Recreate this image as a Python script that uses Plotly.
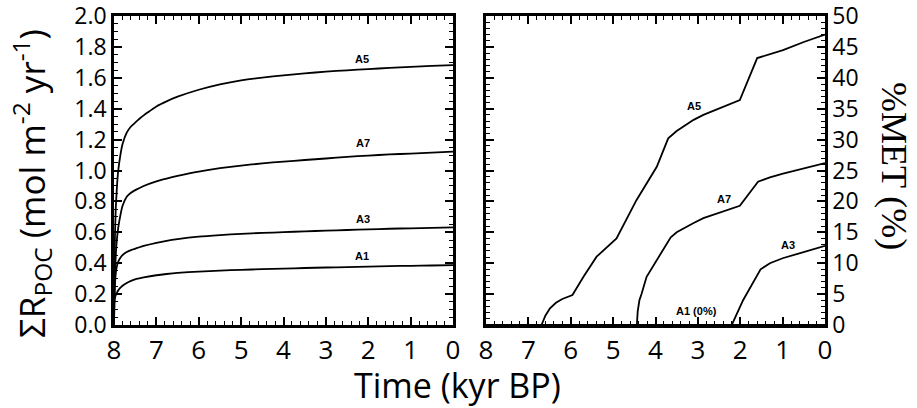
import plotly.graph_objects as go

# ---------------- data: left panel (ΣR_POC, mol m-2 yr-1) ----------------
t_a5 = [8.0, 7.99, 7.98, 7.96, 7.93, 7.9, 7.85, 7.8, 7.7, 7.6, 7.5, 7.4, 7.3, 7.2, 7.0, 6.76, 6.5, 6.0, 5.5, 5.0, 4.5, 4.0, 3.5, 3.0, 2.5, 2.0, 1.5, 1.0, 0.5, 0.0]
v_a5 = [0.0, 0.35, 0.55, 0.75, 0.9, 1.0, 1.1, 1.17, 1.245, 1.285, 1.31, 1.335, 1.357, 1.377, 1.415, 1.448, 1.478, 1.523, 1.558, 1.584, 1.602, 1.616, 1.629, 1.64, 1.649, 1.657, 1.664, 1.671, 1.677, 1.683]

t_a7 = [8.0, 7.99, 7.97, 7.94, 7.9, 7.85, 7.8, 7.7, 7.6, 7.5, 7.3, 7.0, 6.76, 6.5, 6.0, 5.5, 5.0, 4.5, 4.0, 3.5, 3.0, 2.5, 2.0, 1.5, 1.0, 0.5, 0.0]
v_a7 = [0.0, 0.2, 0.38, 0.53, 0.63, 0.71, 0.77, 0.83, 0.856, 0.873, 0.9, 0.93, 0.948, 0.965, 0.993, 1.015, 1.032, 1.046, 1.058, 1.068, 1.078, 1.088, 1.097, 1.104, 1.11, 1.116, 1.122]

t_a3 = [8.0, 7.99, 7.97, 7.94, 7.9, 7.85, 7.8, 7.7, 7.6, 7.47, 7.3, 7.0, 6.76, 6.5, 6.0, 5.5, 5.0, 4.5, 4.0, 3.5, 3.0, 2.5, 2.0, 1.5, 1.0, 0.5, 0.0]
v_a3 = [0.0, 0.18, 0.3, 0.37, 0.41, 0.435, 0.452, 0.472, 0.485, 0.497, 0.512, 0.532, 0.545, 0.556, 0.572, 0.582, 0.59, 0.596, 0.601, 0.606, 0.611, 0.615, 0.619, 0.623, 0.626, 0.629, 0.632]

t_a1 = [8.0, 7.995, 7.98, 7.96, 7.93, 7.9, 7.86, 7.8, 7.7, 7.6, 7.47, 7.3, 7.0, 6.76, 6.5, 6.0, 5.5, 5.0, 4.5, 4.0, 3.5, 3.0, 2.5, 2.0, 1.5, 1.0, 0.5, 0.0]
v_a1 = [0.0, 0.15, 0.175, 0.192, 0.21, 0.224, 0.238, 0.254, 0.272, 0.286, 0.298, 0.308, 0.322, 0.33, 0.337, 0.346, 0.352, 0.357, 0.361, 0.365, 0.369, 0.372, 0.375, 0.378, 0.381, 0.383, 0.385, 0.387]

# ---------------- data: right panel (%MET) ----------------
m_t_a5 = [6.69, 6.6, 6.49, 6.35, 6.2, 5.96, 5.70, 5.39, 4.92, 4.45, 3.97, 3.70, 3.50, 3.35, 3.1, 2.87, 2.5, 2.01, 1.60, 1.3, 0.99, 0.5, 0.0]
m_v_a5 = [0.0, 1.5, 2.7, 3.6, 4.2, 4.85, 7.8, 11.05, 14.0, 20.2, 25.6, 30.2, 31.4, 32.1, 33.2, 34.0, 35.0, 36.4, 43.2, 43.9, 44.5, 45.8, 47.0]

m_t_a7 = [4.44, 4.42, 4.38, 4.33, 4.21, 3.64, 3.5, 3.35, 3.1, 2.87, 2.5, 2.01, 1.58, 1.3, 0.99, 0.5, 0.0]
m_v_a7 = [0.0, 2.2, 4.0, 5.0, 7.8, 14.2, 15.0, 15.6, 16.5, 17.3, 18.2, 19.3, 23.2, 23.9, 24.5, 25.4, 26.2]

m_t_a3 = [2.20, 1.93, 1.52, 1.40, 1.30, 1.0, 0.75, 0.4, 0.0]
m_v_a3 = [0.0, 4.05, 9.0, 9.6, 10.0, 10.8, 11.3, 12.0, 12.8]

m_t_a1 = [8.0, 0.0]
m_v_a1 = [0.0, 0.0]

# labels
left_labels = [("A5", 2.15, 1.72), ("A7", 2.13, 1.18), ("A3", 2.13, 0.686), ("A1", 2.15, 0.447)]
right_labels = [("A5", 3.09, 35.4), ("A7", 2.39, 20.4), ("A3", 0.88, 12.9), ("A1 (0%)", 3.03, 2.3)]

x_ticks = [8, 7, 6, 5, 4, 3, 2, 1, 0]
left_y_ticks = [0.0, 0.2, 0.4, 0.6, 0.8, 1.0, 1.2, 1.4, 1.6, 1.8, 2.0]
right_y_ticks = [0, 5, 10, 15, 20, 25, 30, 35, 40, 45, 50]

W, H = 917, 408
fig = go.Figure()
line_l = dict(color="black", width=1.8, shape="spline", smoothing=0.5)
line_r = dict(color="black", width=1.8)
for t, v in [(t_a5, v_a5), (t_a7, v_a7), (t_a3, v_a3), (t_a1, v_a1)]:
    fig.add_trace(go.Scatter(x=t, y=v, mode="lines", line=line_l, hoverinfo="skip",
                             xaxis="x", yaxis="y", showlegend=False))
for t, v in [(m_t_a5, m_v_a5), (m_t_a7, m_v_a7), (m_t_a3, m_v_a3), (m_t_a1, m_v_a1)]:
    fig.add_trace(go.Scatter(x=t, y=v, mode="lines", line=line_r, hoverinfo="skip",
                             xaxis="x2", yaxis="y2", showlegend=False))

tickfont_x = dict(family="Open Sans", size=26, color="black")
tickfont_y = dict(family="Open Sans", size=23, color="black")
axis_common = dict(showline=True, linecolor="black", linewidth=2.5, mirror="allticks",
                   ticks="inside", ticklen=8, tickwidth=2, tickcolor="black", automargin=False,
                   showgrid=False, zeroline=False, ticklabeloverflow="allow")
ydom = [(H - 325) / H, (H - 16) / H]

fig.update_layout(
    width=W, height=H, margin=dict(l=0, r=0, t=0, b=0, pad=0, autoexpand=False),
    paper_bgcolor="white", plot_bgcolor="white", hovermode=False,
    xaxis=dict(axis_common, domain=[114 / W, 453 / W], range=[8.0005, -0.0005], tickvals=x_ticks,
               tickfont=tickfont_x, anchor="y",
               minor=dict(dtick=0.2, ticks="inside", ticklen=4, tickwidth=1.3, tickcolor="black")),
    yaxis=dict(axis_common, domain=ydom, range=[-0.0002, 2.0005], tickvals=left_y_ticks,
               ticktext=[f"{v:.1f}" for v in left_y_ticks], tickfont=tickfont_y, anchor="x",
               minor=dict(dtick=0.05, ticks="inside", ticklen=4, tickwidth=1.3, tickcolor="black")),
    xaxis2=dict(axis_common, domain=[486 / W, 825 / W], range=[8.0005, -0.0005], tickvals=x_ticks,
                tickfont=tickfont_x, anchor="y2",
                minor=dict(dtick=0.2, ticks="inside", ticklen=4, tickwidth=1.3, tickcolor="black")),
    yaxis2=dict(axis_common, domain=ydom, range=[-0.005, 50.01], tickvals=right_y_ticks,
                tickfont=tickfont_y, anchor="x2", side="right",
                minor=dict(dtick=1, ticks="inside", ticklen=4, tickwidth=1.3, tickcolor="black")),
)

anns = []
for txt, x, y in left_labels:
    anns.append(dict(text=f"<b>{txt}</b>", x=x, y=y, xref="x", yref="y", showarrow=False,
                     xanchor="center", yanchor="middle",
                     font=dict(family="Liberation Sans", size=11, color="black")))
for txt, x, y in right_labels:
    anns.append(dict(text=f"<b>{txt}</b>", x=x, y=y, xref="x2", yref="y2", showarrow=False,
                     xanchor="center", yanchor="middle",
                     font=dict(family="Liberation Sans", size=11, color="black")))
anns.append(dict(text="ΣR<sub>POC</sub> (mol m<sup>-2</sup> yr<sup>-1</sup>)", x=32 / W, y=(H - 184) / H,
                 xref="paper", yref="paper", showarrow=False, textangle=-90,
                 xanchor="center", yanchor="middle",
                 font=dict(family="Open Sans", size=35, color="black")))
anns.append(dict(text="%MET (%)", x=894 / W, y=(H - 166) / H, xref="paper", yref="paper",
                 showarrow=False, textangle=90, xanchor="center", yanchor="middle",
                 font=dict(family="Liberation Serif", size=36, color="black")))
anns.append(dict(text="Time (kyr BP)", x=457 / W, y=(H - 385) / H, xref="paper", yref="paper",
                 showarrow=False, xanchor="center", yanchor="middle",
                 font=dict(family="Open Sans", size=34, color="black")))
fig.update_layout(annotations=anns)

fig.write_html("out.html", config={"responsive": False, "displayModeBar": False},
               post_script="document.body.style.margin='0';document.body.style.overflow='hidden';")
